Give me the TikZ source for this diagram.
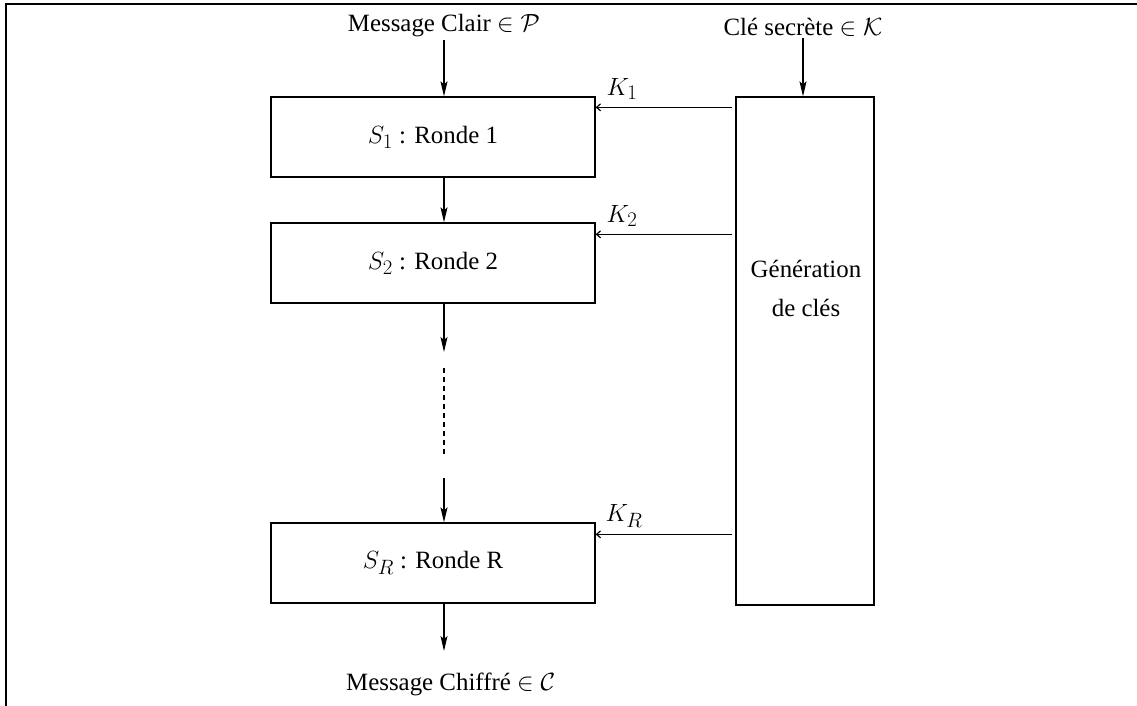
\documentclass[tikz,border=0pt]{standalone}
\usepackage{fontspec}
\setmainfont{Liberation Serif}[Ligatures=TeX]
\newfontfamily\timesfont{Liberation Serif}
\usetikzlibrary{arrows.meta}
\begin{document}
\begin{tikzpicture}[x=1pt,y=-1pt,
  every node/.style={font=\timesfont\fontsize{24.88}{39}\selectfont, inner sep=0pt},
  box/.style={draw, line width=1.3pt, minimum width=324pt, minimum height=80pt},
  varrow/.style={line width=1.2pt, -{Stealth[length=15pt,width=7pt,inset=3pt]}},
  harrow/.style={line width=1.2pt, -{Straight Barb[length=4pt,width=7pt]}},
  dotline/.style={line width=1.2pt, dash pattern=on 4.5pt off 4.5pt},
]
\useasboundingbox (0,0) rectangle (1137,706);
\draw[line width=2pt] (5.5,706) -- (5.5,4) -- (1137,4);

% rounds
\node[box] (s1) at (433,137) {$S_1$ : Ronde 1};
\node[box] (s2) at (433,263) {$S_2$ : Ronde 2};
\node[box] (sR) at (433,563) {$S_R$ : Ronde R};

% key generation
\node[draw, line width=1.3pt, minimum width=138pt, minimum height=508pt] (gen) at (805,351) {};
\node[align=center] (gentxt) at (806,288) {Génération\\de clés};

% inputs / outputs
\node (clair) at (444,26) {Message Clair $\in \mathcal{P}$};
\node (cle) at (803,27) {Clé secrète $\in \mathcal{K}$};
\node[anchor=west] (chiffre) at (346,684) {Message Chiffré $\in \mathcal{C}$};

% vertical flow
\draw[varrow] (clair.south) ++(0,2) -- (clair |- s1.north);
\draw[varrow] (cle.south) ++(0,2) -- (cle |- gen.north);
\draw[varrow] (s1.south -| clair) -- (s2.north -| clair);
\coordinate (d1) at (444,352);
\coordinate (d2) at (444,368);
\coordinate (d3) at (444,456);
\coordinate (d4) at (444,478);
\draw[varrow] (s2.south -| clair) -- (d1);
\draw[dotline] (d2) -- (d3);
\draw[varrow] (d4) -- (sR.north -| clair);
\coordinate (cend) at (444,651);
\draw[varrow] (sR.south -| clair) -- (cend);

% keys
\coordinate (k1) at ([yshift=-11pt]s1.north east);
\coordinate (k2) at ([yshift=-12pt]s2.north east);
\coordinate (kR) at ([yshift=-12pt]sR.north east);
\draw[harrow, shorten <=3pt] (k1 -| gen.west) -- (k1);
\draw[harrow, shorten <=3pt] (k2 -| gen.west) -- (k2);
\draw[harrow, shorten <=3pt] (kR -| gen.west) -- (kR);
\node (k1l) at (622,89) {$K_1$};
\node (k2l) at (622,216) {$K_2$};
\node (kRl) at (624,516) {$K_R$};
\end{tikzpicture}
\end{document}
